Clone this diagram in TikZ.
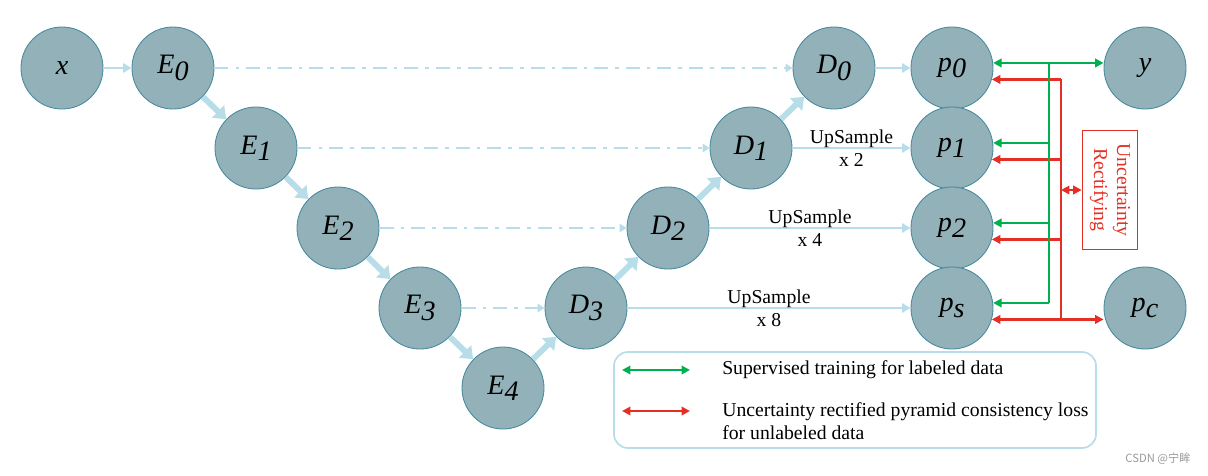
\documentclass[tikz,border=0pt]{standalone}
\usepackage{fontspec}
\setmainfont{Liberation Serif}
\newfontfamily\cjk{Noto Sans CJK SC}
\usetikzlibrary{arrows.meta}
\definecolor{blobfill}{RGB}{147,177,184}
\definecolor{blobedge}{RGB}{70,138,158}
\definecolor{flow}{RGB}{183,222,232}
\definecolor{supcol}{RGB}{0,176,80}
\definecolor{unsupcol}{RGB}{228,48,36}
\newcommand{\lbl}[2]{#1\raisebox{-4.5pt}{#2}}
\begin{document}
\begin{tikzpicture}[x=0.025cm,y=-0.025cm,
  blob/.style={circle,draw=blobedge,line width=0.6pt,fill=blobfill,minimum size=2.05cm,inner sep=0pt,font=\fontsize{20}{23}\selectfont\itshape},
  feed/.style={draw=flow,line width=2pt,-{Triangle[length=6pt,width=6.5pt]}},
  chain/.style={draw=flow,line width=4.2pt,-{Triangle[length=8pt,width=12pt]}},
  skip/.style={draw=flow,line width=1.8pt,dash pattern=on 10pt off 5pt on 2.5pt off 5pt,-{Triangle[length=5pt,width=6pt]}},
  gline/.style={draw=supcol,line width=2pt},
  rline/.style={draw=unsupcol,line width=2pt},
  garrow/.style={gline,-{Triangle[length=6pt,width=6pt]}},
  gboth/.style={gline,{Triangle[length=6pt,width=6pt]}-{Triangle[length=6pt,width=6pt]}},
  rarrow/.style={rline,-{Triangle[length=6pt,width=6pt]}},
  rboth/.style={rline,{Triangle[length=6pt,width=6pt]}-{Triangle[length=6pt,width=6pt]}},
  txt/.style={font=\fontsize{14}{16.5}\selectfont},
  up/.style={txt,align=center,inner sep=1pt}]
\useasboundingbox (0,0) rectangle (1208,475);
% network
\foreach \n/\px/\py/\t in {x/62/68/x, E0/173/68/\lbl{E}{0}, E1/256/148/\lbl{E}{1}, E2/338/228/\lbl{E}{2},
  E3/420/308/\lbl{E}{3}, E4/503/388/\lbl{E}{4}, D3/586/308/\lbl{D}{3}, D2/668/228/\lbl{D}{2},
  D1/751/148/\lbl{D}{1}, D0/834/68/\lbl{D}{0}, p0/952/68/\lbl{p}{0}, p1/952/148/\lbl{p}{1},
  p2/952/228/\lbl{p}{2}, ps/952/308/\lbl{p}{s}, y/1145/68/y, pc/1145/308/\lbl{p}{c}}
  {\node[blob] (\n) at (\px,\py) {\t};}
\foreach \a/\b in {E0/E1,E1/E2,E2/E3,E3/E4,E4/D3,D3/D2,D2/D1,D1/D0}{\draw[chain] (\a) -- (\b);}
\foreach \a/\b in {E0/D0,E1/D1,E2/D2,E3/D3}{\draw[skip] (\a) -- (\b);}
\draw[feed] (x) -- (E0);
\draw[feed] (D0) -- (p0);
\draw[feed] (D1) -- node[up]{UpSample\\x 2} (p1);
\draw[feed] (D2) -- node[up]{UpSample\\x 4} (p2);
\draw[feed] (D3) -- node[up]{UpSample\\x 8} (ps);
%
\node[txt,draw=unsupcol,line width=1.2pt,text=unsupcol,rotate=-90,align=center,
  minimum width=2.975cm,minimum height=1.375cm,inner sep=1pt] (rect) at (1110,190) {Uncertainty\\Rectifying};
\coordinate (gbus) at (1049,0);
\coordinate (rbus) at (1061,0);
\draw[rline] (rbus |- p0.-16) -- (rbus |- ps.-16);
\foreach \p in {p0,p1,p2}{\draw[rarrow] (rbus |- \p.-16) -- (\p.-16);}
\draw[rboth] (ps.-16) -- (ps.-16 -| pc.west);
\draw[rboth] (rbus |- rect.south) -- (rect.south);
\draw[gline] (gbus |- p0.7) -- (gbus |- ps.7);
\draw[gboth] (p0.7) -- (p0.7 -| y.west);
\foreach \p in {p1,p2,ps}{\draw[garrow] (gbus |- \p.7) -- (\p.7);}
% legend
\node[draw=flow,line width=1.2pt,rounded corners=10pt,minimum width=12.05cm,minimum height=2.4cm] (leg) at (855,400) {};
\coordinate (ga) at (622,370);
\coordinate (gb) at (690,370);
\coordinate (ra) at (622,411);
\coordinate (rb) at (690,411);
\draw[gboth] (ga) -- (gb);
\draw[rboth] (ra) -- (rb);
\node[txt,anchor=west,inner sep=0pt] (lsup) at (722,370) {Supervised training for labeled data};
\node[txt,anchor=west,align=left,inner sep=0pt] (lunsup) at (722,421.5) {Uncertainty rectified pyramid consistency loss\\for unlabeled data};
\node[font=\cjk\fontsize{8}{8}\selectfont,text=gray!80] (mark) at (1158,459) {CSDN @宁眸};
\end{tikzpicture}
\end{document}
